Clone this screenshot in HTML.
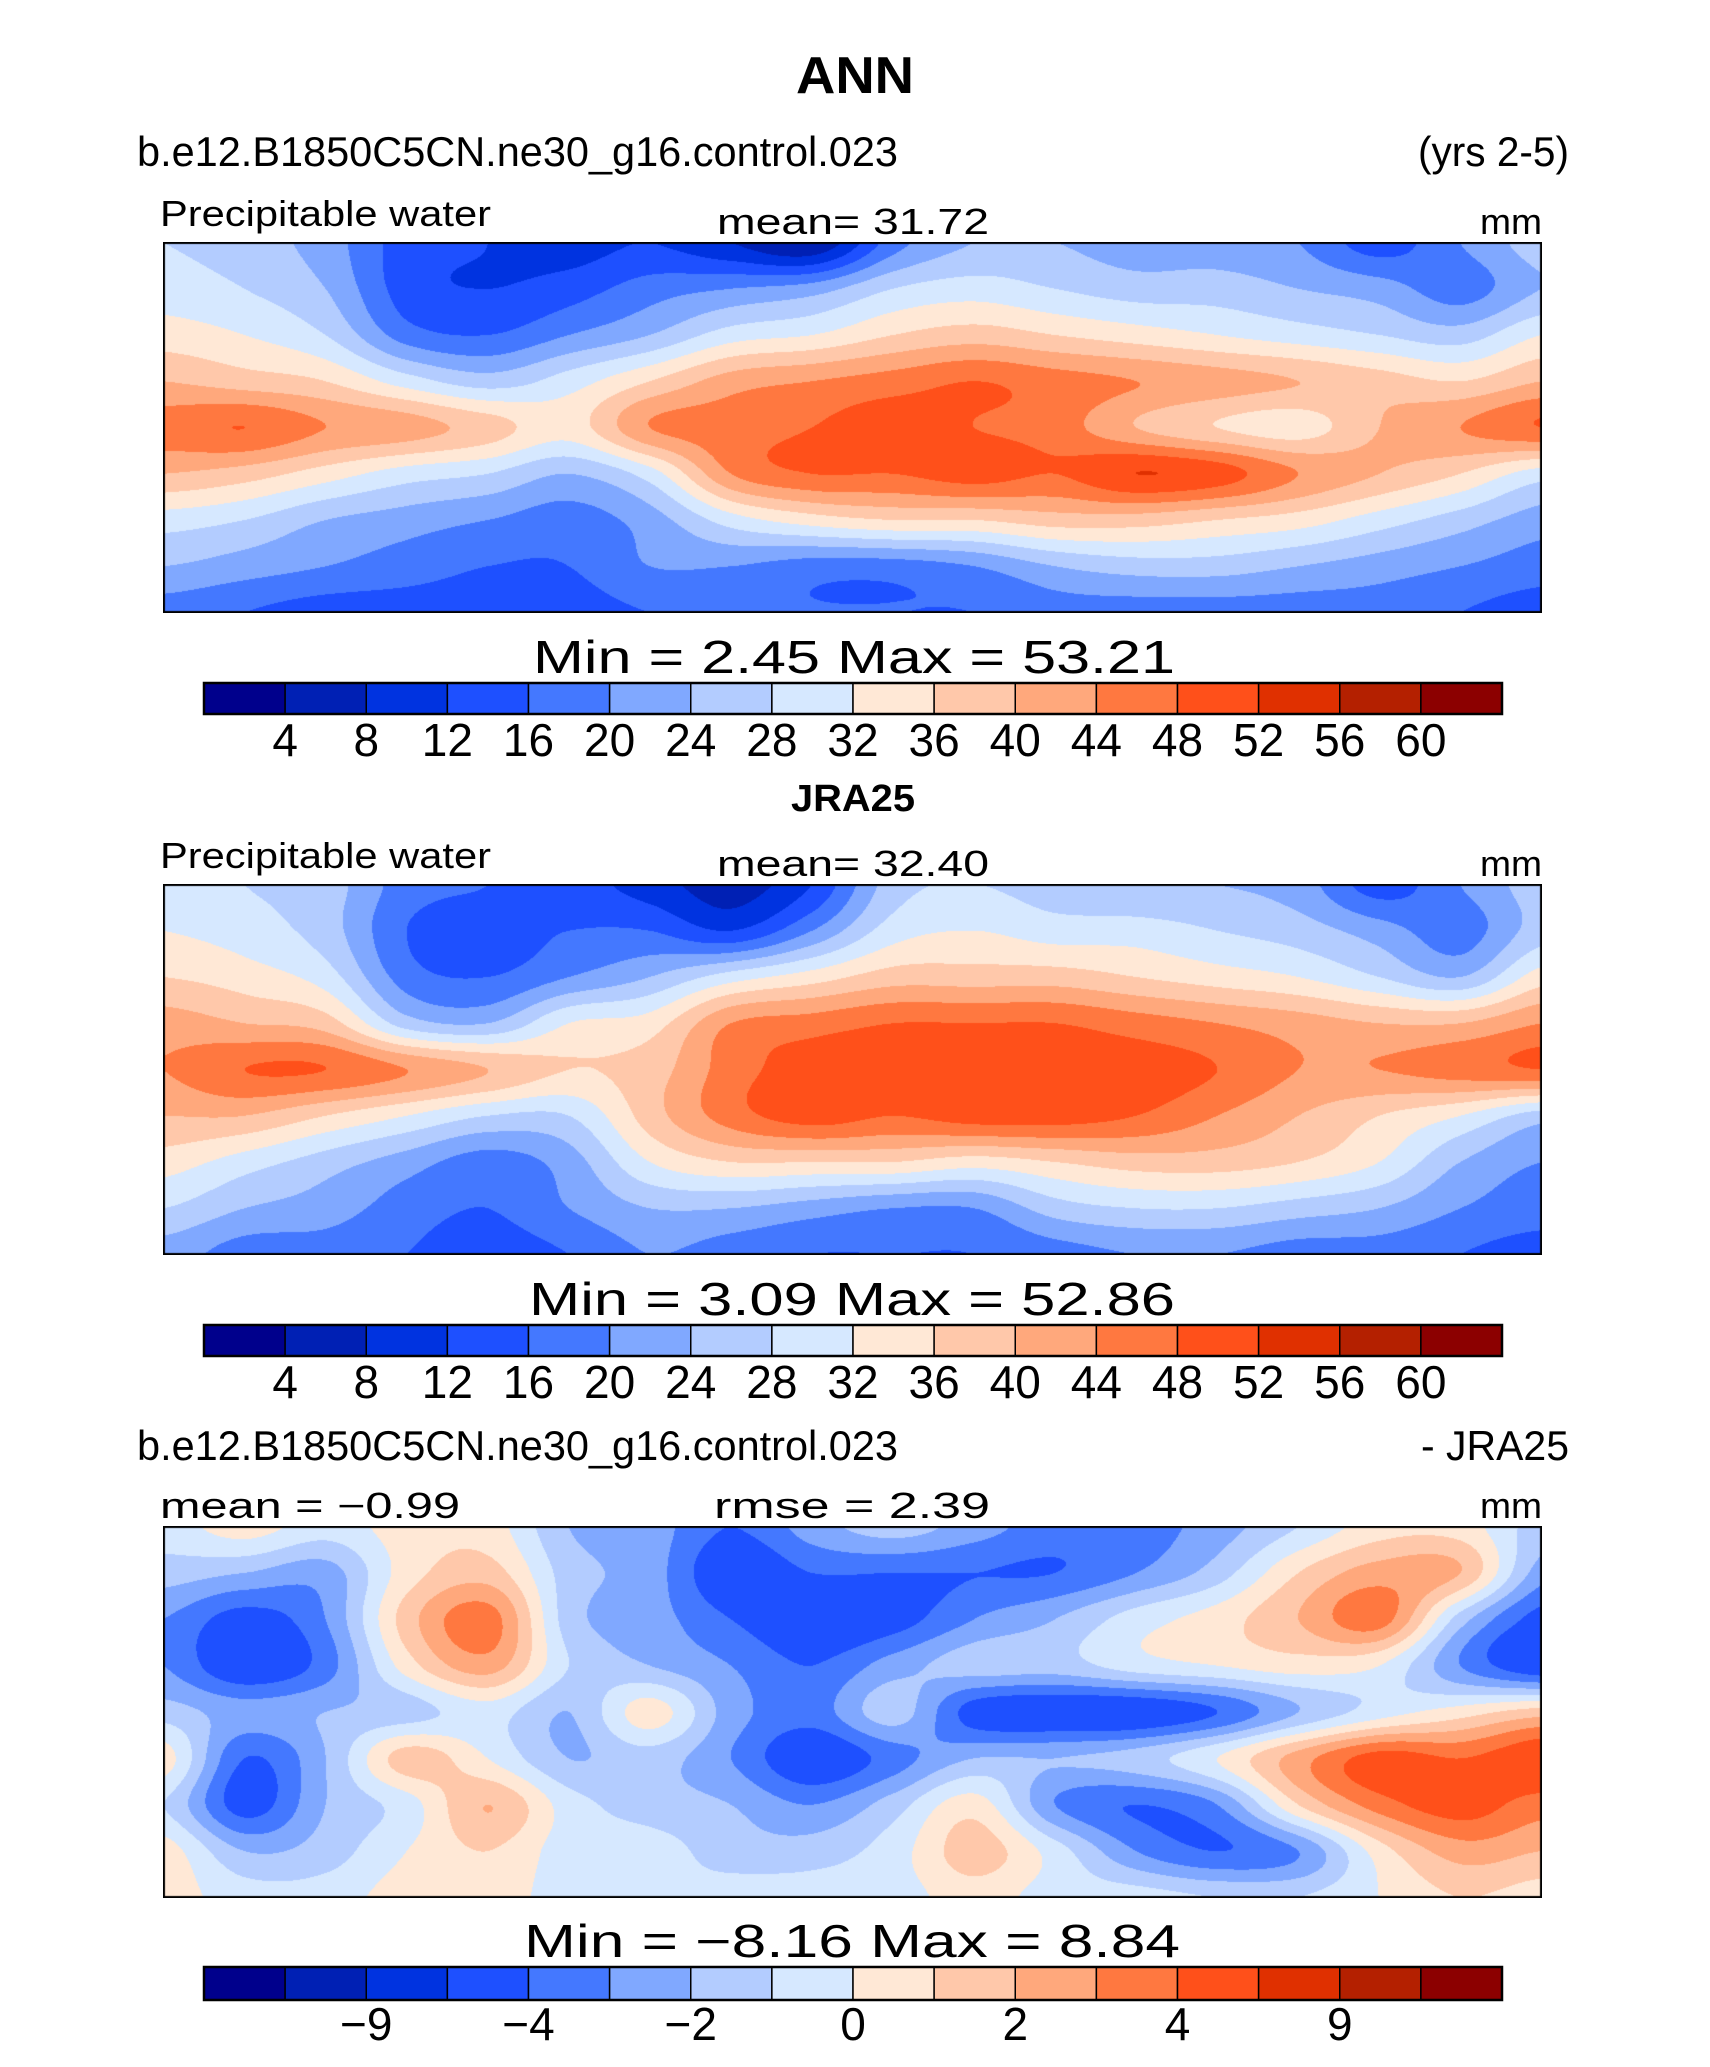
<!DOCTYPE html>
<html><head><meta charset="utf-8">
<style>
html,body{margin:0;padding:0;background:#fff;}
#wrap{position:relative;width:1710px;height:2067px;overflow:hidden;}
canvas{position:absolute;}
svg{position:absolute;left:0;top:0;}
text{font-family:"Liberation Sans",sans-serif;fill:#000;}
</style></head>
<body>
<div id="wrap">
<canvas id="m1" width="1379" height="371" style="left:163px;top:242px"></canvas>
<canvas id="m2" width="1379" height="371" style="left:163px;top:884px"></canvas>
<canvas id="m3" width="1379" height="372" style="left:163px;top:1526px"></canvas>
<svg id="s" width="1710" height="2067">
<text x="855" y="93" font-size="52" font-weight="bold" text-anchor="middle" textLength="118" lengthAdjust="spacingAndGlyphs">ANN</text>
<text x="137" y="166" font-size="42" textLength="761" lengthAdjust="spacingAndGlyphs">b.e12.B1850C5CN.ne30_g16.control.023</text>
<text x="1569" y="166" font-size="42" text-anchor="end" textLength="151" lengthAdjust="spacingAndGlyphs">(yrs 2-5)</text>
<text x="160" y="226" font-size="36" textLength="331" lengthAdjust="spacingAndGlyphs">Precipitable water</text>
<text x="717" y="234" font-size="36" textLength="272" lengthAdjust="spacingAndGlyphs">mean=   31.72</text>
<text x="1542" y="234" font-size="36" text-anchor="end" textLength="62" lengthAdjust="spacingAndGlyphs">mm</text>
<text x="533" y="673" font-size="46" textLength="642" lengthAdjust="spacingAndGlyphs">Min =    2.45 Max =   53.21</text>
<text x="853" y="811" font-size="38" font-weight="bold" text-anchor="middle" textLength="124" lengthAdjust="spacingAndGlyphs">JRA25</text>
<text x="160" y="868" font-size="36" textLength="331" lengthAdjust="spacingAndGlyphs">Precipitable water</text>
<text x="717" y="876" font-size="36" textLength="272" lengthAdjust="spacingAndGlyphs">mean=   32.40</text>
<text x="1542" y="876" font-size="36" text-anchor="end" textLength="62" lengthAdjust="spacingAndGlyphs">mm</text>
<text x="529" y="1315" font-size="46" textLength="646" lengthAdjust="spacingAndGlyphs">Min =    3.09 Max =   52.86</text>
<text x="137" y="1460" font-size="42" textLength="761" lengthAdjust="spacingAndGlyphs">b.e12.B1850C5CN.ne30_g16.control.023</text>
<text x="1569" y="1460" font-size="42" text-anchor="end" textLength="148" lengthAdjust="spacingAndGlyphs">- JRA25</text>
<text x="160" y="1518" font-size="36" textLength="300" lengthAdjust="spacingAndGlyphs">mean =  −0.99</text>
<text x="714" y="1518" font-size="36" textLength="276" lengthAdjust="spacingAndGlyphs">rmse =    2.39</text>
<text x="1542" y="1518" font-size="36" text-anchor="end" textLength="62" lengthAdjust="spacingAndGlyphs">mm</text>
<text x="524" y="1957" font-size="46" textLength="656" lengthAdjust="spacingAndGlyphs">Min =   −8.16 Max =    8.84</text>
</svg>
</div>
<script>
const colors=["#00008c","#0020b4","#0033e0","#1e50ff","#4478ff","#80a8ff","#b3ccff","#d6e8ff","#ffe8d6","#ffc8aa","#ffa87c","#ff7840","#ff501a","#e03000","#b42000","#8c0000"];
const absLevels=[4,8,12,16,20,24,28,32,36,40,44,48,52,56,60];
const absLabels=["4","8","12","16","20","24","28","32","36","40","44","48","52","56","60"];
const diffLevels=[-12,-9,-6,-4,-3,-2,-1,0,1,2,3,4,6,9,12];
const diffLabels=["","−9","","−4","","−2","","0","","2","","4","","9",""];
const model=[
[28,26,22,14,12,10,12,8,4,18,24,24,22,22,20,14,20,26],
[30,28,24,14,12,14,18,20,22,28,30,28,26,26,24,22,18,24],
[34,32,28,18,16,20,24,30,32,36,38,36,34,32,30,28,26,32],
[40,38,36,30,26,30,36,42,44,46,48,46,44,42,40,38,36,40],
[46,48,44,42,38,34,44,46,48,50,48,46,40,36,34,40,44,48],
[40,38,34,30,28,24,30,44,48,48,50,48,52,50,44,40,36,30],
[30,28,24,22,20,18,22,30,34,36,36,38,38,36,34,30,26,22],
[24,22,20,18,16,16,20,20,18,18,20,24,26,26,24,22,20,18],
[18,16,14,14,14,14,16,16,16,16,16,18,18,18,18,18,16,14]];
const jra=[
[30,28,26,18,16,14,10,6,12,26,28,26,24,24,22,14,20,26],
[32,30,26,16,14,16,16,12,20,30,32,30,30,28,26,22,18,26],
[36,34,30,18,16,20,24,30,34,38,38,38,36,34,32,28,24,34],
[42,40,38,26,24,32,34,44,46,48,48,48,46,44,42,40,40,44],
[44,48,48,44,40,36,38,46,50,50,50,50,50,48,44,44,46,48],
[40,40,36,32,28,28,38,46,50,48,50,50,48,44,40,36,32,26],
[34,30,26,22,18,22,32,36,36,36,34,36,38,38,36,32,24,20],
[28,24,22,18,16,20,24,24,22,20,20,26,28,28,26,24,20,18],
[22,18,18,16,14,16,20,18,16,16,16,18,20,20,18,18,16,14]];
const diff=[
[-0.5,0.5,-0.5,0.5,0.5,-2,-2.5,-4,-2.5,-1.5,-2.5,-3.5,-3.5,-2.5,-1,0.5,0.5,-1.5],
[-1.5,-2,-2.5,0.5,1.5,-1.5,-2.5,-5,-4,-4,-4,-4,-3,-1.5,1,2.5,2,-2.5],
[-3,-4.5,-3,1.5,3.5,-1.5,-2.5,-4,-5,-4.5,-3,-2,-0.5,0.5,2,3.5,-1.5,-4.5],
[-3,-5,-3.5,0.5,2.5,-1,-2,-3,-4,-2.5,-1.5,-1.5,-0.5,0,0.5,0,-3,-5],
[-1.5,-2.5,-2,-1.5,-0.5,-2,0.5,-2.5,-3.5,-1.5,-4.5,-5,-5,-4,-2,-0.5,0.5,1.5],
[0.5,-4,-2,1.5,0,-2,-1.5,-3,-5,-3.5,-2,-2,-1.5,0,2.5,4.5,4,5],
[-1,-4.5,-2,-0.5,2,-0.5,-1.5,-2,-3,-1.5,0.5,-3,-4,-3,1,3.5,4.5,3.5],
[0.5,-2,-1.5,0,1,-0.5,-0.5,-1.5,-1.5,-0.5,1.5,-0.5,-3,-4,-3,0.5,2.5,2],
[0.5,-0.5,-0.5,0.5,0.5,-0.5,-1,-0.5,-0.5,-0.5,0.5,-0.5,-0.5,-1,-1,0,1,0.5]];

function hex(c){return [parseInt(c.substr(1,2),16),parseInt(c.substr(3,2),16),parseInt(c.substr(5,2),16)];}
const rgb=colors.map(hex);
function cr(p0,p1,p2,p3,t){return 0.5*((2*p1)+(-p0+p2)*t+(2*p0-5*p1+4*p2-p3)*t*t+(-p0+3*p1-3*p2+p3)*t*t*t);}
function sample(g,fx,fy){
  const R=g.length,C=g[0].length;
  const ix=Math.floor(fx),iy=Math.floor(fy),tx=fx-ix,ty=fy-iy;
  const cl=(v,m)=>Math.max(0,Math.min(m-1,v));
  const rows=[];
  for(let j=-1;j<=2;j++){const r=g[cl(iy+j,R)];
    rows.push(cr(r[cl(ix-1,C)],r[cl(ix,C)],r[cl(ix+1,C)],r[cl(ix+2,C)],tx));}
  return cr(rows[0],rows[1],rows[2],rows[3],ty);
}
function levelIndex(v,levels){let i=0;while(i<levels.length&&v>=levels[i])i++;return i;}
function drawMap(id,g,levels){
  const cv=document.getElementById(id),ctx=cv.getContext('2d');
  const W=cv.width,H=cv.height,img=ctx.createImageData(W,H);
  const C=g[0].length,R=g.length;
  for(let y=0;y<H;y++){const fy=y/(H-1)*(R-1);
    for(let x=0;x<W;x++){const fx=x/(W-1)*(C-1);
      const c=rgb[levelIndex(sample(g,fx,fy),levels)];
      const k=(y*W+x)*4;img.data[k]=c[0];img.data[k+1]=c[1];img.data[k+2]=c[2];img.data[k+3]=255;}}
  ctx.putImageData(img,0,0);
  ctx.strokeStyle='#000';ctx.lineWidth=2;ctx.strokeRect(1,1,W-2,H-2);
}
drawMap('m1',model,absLevels);
drawMap('m2',jra,absLevels);
drawMap('m3',diff,diffLevels);

const NS='http://www.w3.org/2000/svg';
const svg=document.getElementById('s');
const cbX=204,cbW=1298;
function colorbar(top,h,labels,labelY,name){
  const bw=cbW/colors.length;
  colors.forEach((c,i)=>{
    const r=document.createElementNS(NS,'rect');
    r.setAttribute('x',cbX+i*bw);r.setAttribute('y',top);r.setAttribute('width',bw);r.setAttribute('height',h);
    r.setAttribute('fill',c);r.setAttribute('stroke','#000');r.setAttribute('stroke-width','1.5');
    
    
    svg.appendChild(r);
  });
  const o=document.createElementNS(NS,'rect');
  o.setAttribute('x',cbX);o.setAttribute('y',top);o.setAttribute('width',cbW);o.setAttribute('height',h);
  o.setAttribute('fill','none');o.setAttribute('stroke','#000');o.setAttribute('stroke-width','2.5');
  
  
  svg.appendChild(o);
  labels.forEach((l,i)=>{
    if(!l)return;
    const t=document.createElementNS(NS,'text');
    t.setAttribute('x',cbX+(i+1)*bw);t.setAttribute('y',labelY);
    t.setAttribute('font-size','46');t.setAttribute('text-anchor','middle');
    t.textContent=l;
    
    
    svg.appendChild(t);
  });
}
colorbar(683,31,absLabels,756,'colorbar-1');
colorbar(1325,31,absLabels,1398,'colorbar-2');
colorbar(1967,33,diffLabels,2040,'colorbar-3');
</script>
</body></html>
